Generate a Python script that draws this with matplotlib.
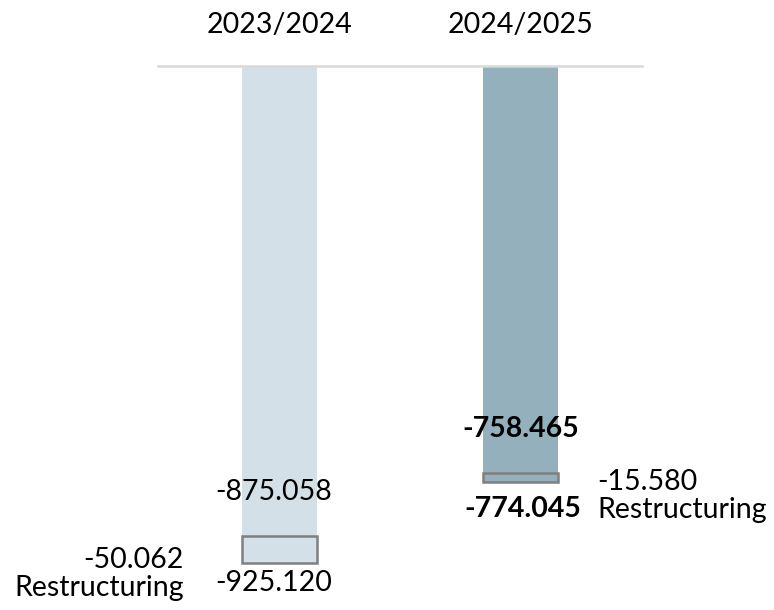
import matplotlib
matplotlib.use('Agg')
from matplotlib import pyplot as plt

plt.rcParams['font.family'] = ['Lato', 'DejaVu Sans']

periods = ['2023/2024', '2024/2025']
before = [-875.058, -758.465]
restructuring = [-50.062, -15.580]
total = [-925.120, -774.045]
colors = ['#d3e0e7', '#94b0bd']

fig = plt.figure(figsize=(7.74, 6.1), dpi=100)
ax = fig.add_axes([0, 0, 1, 1])
ax.set_xlim(-1.16, 2.052)
ax.set_ylim(-1013, 122.9)
ax.axis('off')

x = [0, 1]
w = 0.315
ax.bar(x, before, width=w, color=colors, zorder=2)
ax.bar(x, restructuring, width=w, bottom=before, color=colors,
       edgecolor='#808080', linewidth=1.8, zorder=3)
ax.plot([-0.504, 1.504], [0, 0], color='#d9d9d9', linewidth=1.8, zorder=4)

fs = 20.5
def fmt(v):
    return '{:.3f}'.format(v)

for i in range(2):
    ax.annotate(periods[i], xy=(x[i], 0), xytext=(0, 33), textcoords='offset pixels',
                ha='center', va='baseline', fontsize=fs)

# 2023/2024
ax.annotate(fmt(before[0]), xy=(x[0], before[0]), xytext=(-6, 36), textcoords='offset pixels',
            ha='center', va='baseline', fontsize=fs)
ax.annotate(fmt(total[0]), xy=(x[0], total[0]), xytext=(-6, -28), textcoords='offset pixels',
            ha='center', va='baseline', fontsize=fs)
ax.annotate(fmt(restructuring[0]), xy=(x[0], total[0]), xytext=(-96, -5), textcoords='offset pixels',
            ha='right', va='baseline', fontsize=fs)
ax.annotate('Restructuring', xy=(x[0], total[0]), xytext=(-96, -33), textcoords='offset pixels',
            ha='right', va='baseline', fontsize=fs)
# 2024/2025
ax.annotate(fmt(before[1]), xy=(x[1], before[1]), xytext=(0, 36), textcoords='offset pixels',
            ha='center', va='baseline', fontsize=fs, fontweight='bold')
ax.annotate(fmt(total[1]), xy=(x[1], total[1]), xytext=(2, -35), textcoords='offset pixels',
            ha='center', va='baseline', fontsize=fs, fontweight='bold')
ax.annotate(fmt(restructuring[1]), xy=(x[1], total[1]), xytext=(77, -8), textcoords='offset pixels',
            ha='left', va='baseline', fontsize=fs)
ax.annotate('Restructuring', xy=(x[1], total[1]), xytext=(77, -36), textcoords='offset pixels',
            ha='left', va='baseline', fontsize=fs)

plt.savefig('out.png', dpi=100)
